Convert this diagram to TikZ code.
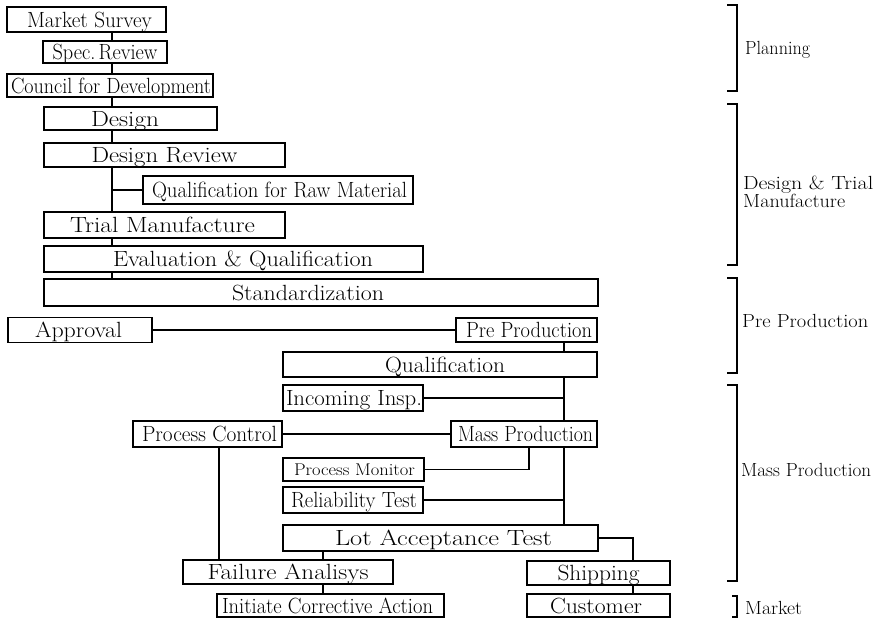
\documentclass[tikz,border=0pt]{standalone}
\usepackage{graphicx}
\newcommand{\fw}[3]{\makebox[#1pt][l]{\hspace*{#2pt}\resizebox{#1pt}{\height}{#3}}}
\tikzset{
  box/.style={draw, line width=1.1pt, inner sep=0pt, font=\fontsize{22}{24}\selectfont, text height=17pt, text depth=2pt},
  smalltxt/.style={font=\fontsize{17}{19}\selectfont, text height=13.6pt, text depth=2pt},
  link/.style={line width=1.1pt},
  brk/.style={line width=1.1pt},
  lab/.style={anchor=west, inner sep=0pt, font=\fontsize{19}{19}\selectfont, text height=15pt, text depth=2pt}
}
\begin{document}
\begin{tikzpicture}[x=1pt,y=-1pt]
\useasboundingbox[fill=white] (0,0) rectangle (882,622);
% boxes
\node[box, minimum width=159pt, minimum height=25pt] (ms) at (86.5,19.5) {\fw{125}{3}{Market Survey}};
\node[box, minimum width=124pt, minimum height=22pt] (sr) at (105,52) {\fw{105}{0}{Spec.\,Review}};
\node[box, minimum width=206pt, minimum height=23pt] (cd) at (110,85.5) {\fw{200}{1}{Council for Development}};
\node[box, minimum width=173pt, minimum height=23pt] (ds) at (130.5,118.5) {\fw{68}{-5.5}{Design}};
\node[box, minimum width=241pt, minimum height=24pt] (dr) at (164.5,155) {\fw{146}{0}{Design Review}};
\node[box, minimum width=270pt, minimum height=28pt] (qrm) at (278,190) {\fw{255}{1.5}{Qualification for Raw Material}};
\node[box, minimum width=241pt, minimum height=26pt] (tm) at (164.5,225) {\fw{185}{-2}{Trial Manufacture}};
\node[box, minimum width=379pt, minimum height=26pt] (eq) at (233.5,259) {\fw{260}{9.5}{Evaluation \& Qualification}};
\node[box, minimum width=554pt, minimum height=27pt] (st) at (321,292.5) {\fw{152}{-13}{Standardization}};
\node[box, minimum width=144pt, minimum height=25pt] (ap) at (80,330) {\fw{87}{-1.5}{Approval}};
\node[box, minimum width=141pt, minimum height=24pt] (pp) at (526.5,330) {\fw{126}{2.5}{Pre Production}};
\node[box, minimum width=314pt, minimum height=25pt] (qu) at (440,364.5) {\fw{120}{5}{Qualification}};
\node[box, minimum width=140pt, minimum height=26pt] (ii) at (353,398) {\fw{136}{1}{Incoming Insp.}};
\node[box, minimum width=149pt, minimum height=26pt] (pc) at (207.5,434) {\fw{135}{2}{Process Control}};
\node[box, minimum width=146pt, minimum height=26pt] (mp) at (524,434) {\fw{135}{1.5}{Mass Production}};
\node[box, smalltxt, minimum width=141pt, minimum height=23pt] (pm) at (353.5,469.5) {\fw{121}{1}{Process Monitor}};
\node[box, minimum width=140pt, minimum height=26pt] (rt) at (353,500) {\fw{126}{1}{Reliability Test}};
\node[box, minimum width=315pt, minimum height=26pt] (lat) at (440.5,538) {\fw{217}{3}{Lot Acceptance Test}};
\node[box, minimum width=210pt, minimum height=24pt] (fa) at (288,572) {\fw{161}{0}{Failure Analisys}};
\node[box, minimum width=227pt, minimum height=23pt] (ica) at (330.5,605.5) {\fw{211}{-3}{Initiate Corrective Action}};
\node[box, minimum width=143pt, minimum height=24pt] (sh) at (598.5,573) {\fw{82}{0}{Shipping}};
\node[box, minimum width=143pt, minimum height=23pt] (cu) at (598.5,605.5) {\fw{92}{-2.5}{Customer}};
% guide coordinates
\coordinate (sx) at (112,0);
\coordinate (rx) at (564,0);
\coordinate (mx) at (529,0);
\coordinate (px) at (219,0);
\coordinate (fx) at (323,0);
\coordinate (hx) at (633,0);
% connectors
\draw[link] (sx |- ms.south) -- (sx |- sr.north);
\draw[link] (sx |- sr.south) -- (sx |- cd.north);
\draw[link] (sx |- cd.south) -- (sx |- ds.north);
\draw[link] (sx |- ds.south) -- (sx |- dr.north);
\draw[link] (sx |- dr.south) -- (sx |- tm.north);
\draw[link] (sx |- qrm.west) -- (qrm.west);
\draw[link] (sx |- tm.south) -- (sx |- eq.north);
\draw[link] (sx |- eq.south) -- (sx |- st.north);
\draw[link] (ap.east) -- (pp.west);
\draw[link] (rx |- pp.south) -- (rx |- qu.north);
\draw[link] (rx |- qu.south) -- (rx |- mp.north);
\draw[link] (ii.east) -- (rx |- ii.east);
\draw[link] (pc.east) -- (mp.west);
\draw[link] (mx |- mp.south) |- (pm.east);
\draw[link] (rx |- mp.south) -- (rx |- lat.north);
\draw[link] (rt.east) -- (rx |- rt.east);
\draw[link] (px |- pc.south) -- (px |- fa.north);
\draw[link] (fx |- lat.south) -- (fx |- fa.north);
\draw[link] (fx |- fa.south) -- (fx |- ica.north);
\draw[link] (lat.east) -| (hx |- sh.north);
\draw[link] (hx |- sh.south) -- (hx |- cu.north);
% brackets
\draw[brk] (727,5) -- (737,5) -- (737,91) -- (727,91);
\draw[brk] (727,104) -- (737,104) -- (737,265) -- (727,265);
\draw[brk] (727,278) -- (737,278) -- (737,373) -- (727,373);
\draw[brk] (727,385) -- (737,385) -- (737,581) -- (727,581);
\draw[brk] (732,596) -- (737,596) -- (737,617) -- (732,617);
% phase labels
\node[lab] (lplan) at (745,48) {\fw{65}{0}{Planning}};
\node[lab] (ldes1) at (743,183) {\fw{130}{0}{Design \& Trial}};
\node[lab] (ldes2) at (743,201) {\fw{102}{0}{Manufacture}};
\node[lab] (lpre) at (742,321) {\fw{126}{0}{Pre Production}};
\node[lab] (lmass) at (741,470) {\fw{130}{0}{Mass Production}};
\node[lab] (lmkt) at (745,608) {\fw{57}{0}{Market}};
\end{tikzpicture}
\end{document}
